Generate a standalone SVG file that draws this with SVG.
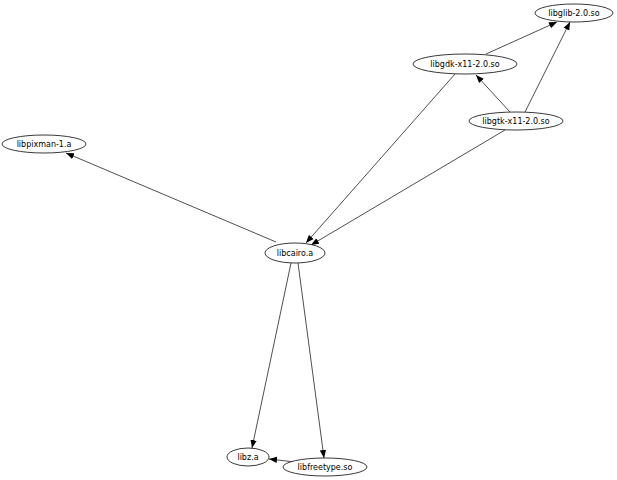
<svg xmlns="http://www.w3.org/2000/svg" width="617" height="480" viewBox="0 0 617 480">
<style>
.n ellipse{fill:#fff;stroke:#222;stroke-width:0.9}
.n text{font-family:"DejaVu Sans",sans-serif;font-size:8px;text-anchor:middle;dominant-baseline:central;fill:#000}
.e line{stroke:#222;stroke-width:0.8;marker-end:url(#a)}
</style>
<defs>
<marker id="a" viewBox="0 0 10 10" refX="10" refY="5" markerWidth="8" markerHeight="8" markerUnits="userSpaceOnUse" orient="auto">
<path d="M0,1 L10,5 L0,9 z" fill="#000"/>
</marker>
</defs>
<rect width="617" height="480" fill="#fff"/>
<g id="edges" class="e">
<line x1="486" y1="54" x2="557" y2="22"/>
<line x1="525" y1="112" x2="570" y2="22"/>
<line x1="510" y1="112" x2="476" y2="75"/>
<line x1="455" y1="74" x2="306" y2="243"/>
<line x1="505" y1="130" x2="311" y2="245"/>
<line x1="276" y1="242" x2="66" y2="153"/>
<line x1="291" y1="263" x2="252" y2="448"/>
<line x1="298" y1="263" x2="324" y2="458"/>
<line x1="295" y1="462" x2="269" y2="459"/>
</g>
<g id="libglib" class="n"><ellipse cx="574" cy="13" rx="39" ry="9"/><text x="574" y="13">libglib-2.0.so</text></g>
<g id="libgdk" class="n"><ellipse cx="465" cy="64" rx="52" ry="10"/><text x="465" y="64">libgdk-x11-2.0.so</text></g>
<g id="libgtk" class="n"><ellipse cx="516" cy="121" rx="47" ry="9"/><text x="516" y="121">libgtk-x11-2.0.so</text></g>
<g id="libpixman" class="n"><ellipse cx="44" cy="144" rx="42" ry="9"/><text x="44" y="144">libpixman-1.a</text></g>
<g id="libcairo" class="n"><ellipse cx="295" cy="253" rx="30" ry="10"/><text x="295" y="253">libcairo.a</text></g>
<g id="libz" class="n"><ellipse cx="248" cy="457" rx="21" ry="9"/><text x="248" y="457">libz.a</text></g>
<g id="libfreetype" class="n"><ellipse cx="325" cy="467" rx="42" ry="9"/><text x="325" y="467">libfreetype.so</text></g>
</svg>
